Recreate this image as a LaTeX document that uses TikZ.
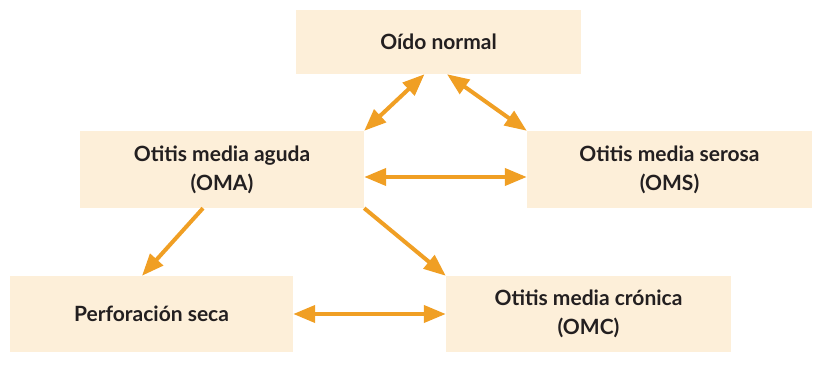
\documentclass[tikz,border=0pt]{standalone}
\usepackage{fontspec}
\setmainfont{Lato}
\usetikzlibrary{arrows.meta}
\definecolor{boxfill}{HTML}{FDEFD9}
\definecolor{arr}{HTML}{F09F24}
\definecolor{txt}{HTML}{231F20}
\tikzset{
  box/.style={fill=boxfill, draw=none, inner sep=0pt, align=center,
    text=txt, font=\fontsize{21}{29}\selectfont\bfseries},
  conn/.style={draw=arr, line width=4pt,
    -{Triangle[length=22pt,width=17pt]}},
  bconn/.style={draw=arr, line width=4pt,
    {Triangle[length=22pt,width=17pt]}-{Triangle[length=22pt,width=17pt]}}
}
\begin{document}
\begin{tikzpicture}[x=1pt,y=-1pt]
\useasboundingbox (0,0) rectangle (815,369);
\node[box, minimum width=285pt, minimum height=64pt] (oido) at (438.5,42) {Oído normal};
\node[box, minimum width=284pt, minimum height=77pt] (oma) at (222,169.5) {Otitis media aguda\\(OMA)};
\node[box, minimum width=285pt, minimum height=77pt] (oms) at (669.5,169.5) {Otitis media serosa\\(OMS)};
\node[box, minimum width=283pt, minimum height=76pt] (perf) at (151.5,314) {Perforación seca};
\node[box, minimum width=285pt, minimum height=76pt] (omc) at (588.5,314) {Otitis media crónica\\(OMC)};
\draw[bconn] ([xshift=-14pt]oido.south) -- (oma.north east);
\draw[bconn] ([xshift=8.5pt]oido.south) -- (oms.north west);
\draw[bconn] ([yshift=-7.5pt]oma.east) -- ([yshift=-7.5pt]oms.west);
\draw[conn] ([xshift=-19pt]oma.south) -- ([xshift=-9.5pt]perf.north);
\draw[conn] (oma.south east) -- (omc.north west);
\draw[bconn] (perf.east) -- (omc.west);
\end{tikzpicture}
\end{document}
